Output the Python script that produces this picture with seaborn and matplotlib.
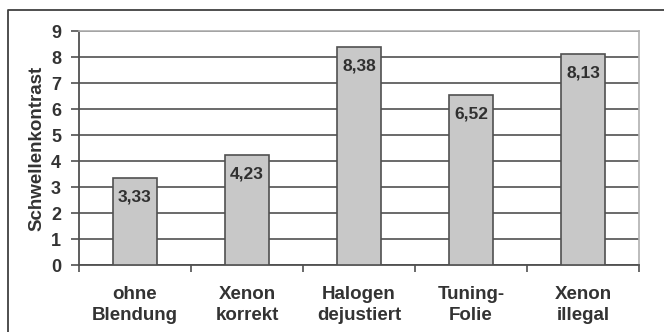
import pandas as pd
import matplotlib
matplotlib.use('Agg')
import matplotlib.pyplot as plt
import seaborn as sns
from matplotlib.lines import Line2D

categories = ['ohne\nBlendung', 'Xenon\nkorrekt', 'Halogen\ndejustiert', 'Tuning-\nFolie', 'Xenon\nillegal']
values = [3.33, 4.23, 8.38, 6.52, 8.13]
value_labels = ['3,33', '4,23', '8,38', '6,52', '8,13']

df = pd.DataFrame({'Kategorie': categories, 'Schwellenkontrast': values})

sns.set_style('white')
plt.rcParams['font.family'] = ['Liberation Sans', 'DejaVu Sans']
plt.rcParams['font.weight'] = 'bold'

fig = plt.figure(figsize=(6.64, 3.32), dpi=100)
ax = fig.add_axes([79 / 664, 67 / 332, 560 / 664, 234 / 332])

sns.barplot(data=df, x='Kategorie', y='Schwellenkontrast', ax=ax,
            color='#c8c8c8', edgecolor='#505050', linewidth=1.2,
            width=0.4, saturation=1, zorder=3)

ax.set_ylim(0, 9)
ax.set_xlim(-0.5, 4.5)
ax.set_yticks(range(10))
ax.grid(axis='y', color='#505050', linewidth=1.2, zorder=0)
ax.set_axisbelow(True)

ax.set_xlabel('')
ax.set_ylabel('Schwellenkontrast', fontsize=13.5, fontweight='bold', color='#333333', labelpad=4)

ax.tick_params(axis='y', which='major', length=6, width=1.2, color='#505050',
               labelsize=13, labelcolor='#333333', pad=7, left=True)
ax.tick_params(axis='x', which='major', length=0, labelsize=13.5, labelcolor='#333333', pad=15)
ax.set_xticks([-0.5, 0.5, 1.5, 2.5, 3.5, 4.5], minor=True)
ax.tick_params(axis='x', which='minor', length=5, width=1.2, color='#505050', bottom=True)

for lab in ax.get_xticklabels():
    lab.set_linespacing(1.3)

for side in ['left', 'bottom']:
    ax.spines[side].set_color('#505050')
    ax.spines[side].set_linewidth(1.3)
for side in ['top', 'right']:
    ax.spines[side].set_color('#b0b0b0')
    ax.spines[side].set_linewidth(1.2)

for i, (v, t) in enumerate(zip(values, value_labels)):
    ax.annotate(t, (i, v), xytext=(0, -19), textcoords='offset pixels',
                ha='center', va='center', fontsize=12.5, fontweight='bold', color='#303030', zorder=5)

# outer frame (left and top edges visible)
fig.add_artist(Line2D([8 / 664, 8 / 664, 1.0], [0.0, 1 - 10 / 332, 1 - 10 / 332],
                      transform=fig.transFigure, color='#404040', linewidth=1.3))

fig.savefig('out.png', dpi=100)
